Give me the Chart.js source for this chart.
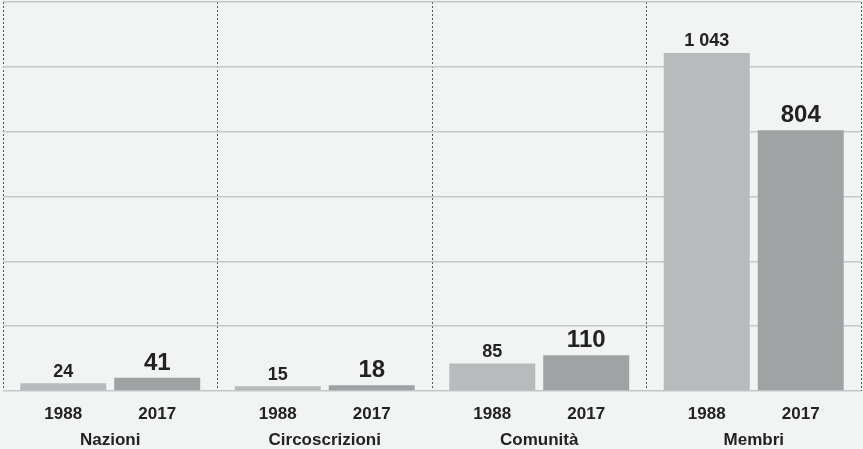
<!DOCTYPE html>
<html>
<head>
<meta charset="utf-8">
<script src="https://cdn.jsdelivr.net/npm/chart.js@4/dist/chart.umd.min.js"></script>
<style>
  html, body { margin: 0; padding: 0; background: #f2f3f3; }
  #wrap { width: 863px; height: 449px; position: relative; }
</style>
</head>
<body>
<div id="wrap"><canvas id="myBar"></canvas></div>
<script>
var groups = ['Nazioni', 'Circoscrizioni', 'Comunità', 'Membri'];
var years = ['1988', '2017'];
var values1988 = [24, 15, 85, 1043];
var values2017 = [41, 18, 110, 804];
var yTicks = [0, 200, 400, 600, 800, 1000, 1200];

var font = '"Liberation Sans", Arial, sans-serif';

// numbers like 1043 are printed with a space as thousands separator
function fmt(v) {
  return String(v).replace(/\B(?=(\d{3})+(?!\d))/g, ' ');
}

// value on top of each bar, year under each bar, group name under the pair
var barText = {
  id: 'barText',
  afterDatasetsDraw: function (chart) {
    var c = chart.ctx;
    var bottom = chart.chartArea.bottom;
    var xs = chart.scales.x;
    c.save();
    c.fillStyle = '#222';
    c.textAlign = 'center';
    c.textBaseline = 'alphabetic';
    chart.data.datasets.forEach(function (ds, i) {
      var meta = chart.getDatasetMeta(i);
      meta.data.forEach(function (bar, j) {
        if (i == 0) {
          c.font = 'bold 18px ' + font;
          c.fillText(fmt(ds.data[j]), bar.x, bar.y - 6.5);
        } else {
          c.font = 'bold 24px ' + font;
          c.fillText(fmt(ds.data[j]), bar.x, bar.y - 8);
        }
        c.font = 'bold 17px ' + font;
        c.fillText(ds.label, bar.x, bottom + 28);
      });
    });
    c.font = 'bold 17px ' + font;
    chart.data.labels.forEach(function (name, j) {
      c.fillText(name, xs.getPixelForValue(j), bottom + 53.5);
    });
    c.restore();
  }
};

var ctx = document.getElementById('myBar').getContext('2d');
var myChart = new Chart(ctx, {
  type: 'bar',
  data: {
    labels: groups,
    datasets: [
      {
        label: years[0],
        data: values1988,
        backgroundColor: '#b9babc',
        borderWidth: 0
      },
      {
        label: years[1],
        data: values2017,
        backgroundColor: '#a1a2a4',
        borderWidth: 0
      }
    ]
  },
  options: {
    responsive: true,
    maintainAspectRatio: false,
    animation: false,
    categoryPercentage: 0.876,
    barPercentage: 0.915,
    layout: { padding: { left: 3, right: 2, top: 2, bottom: 0 } },
    plugins: {
      legend: { display: false },
      tooltip: { enabled: false }
    },
    scales: {
      x: {
        afterFit: function (axis) { axis.height = 58; },
        grid: {
          offset: true,
          color: '#555',
          lineWidth: 1,
          drawTicks: false,
          tickBorderDash: [2, 2]
        },
        border: { display: false, dash: [2, 2] },
        ticks: { display: false }
      },
      y: {
        min: 0,
        max: 1200,
        afterBuildTicks: function (axis) {
          axis.ticks = yTicks.map(function (v) { return { value: v }; });
        },
        grid: { color: '#c6c7c9', lineWidth: 1.5, drawTicks: false },
        border: { display: false },
        ticks: { display: false }
      }
    }
  },
  plugins: [barText]
});
</script>
</body>
</html>
